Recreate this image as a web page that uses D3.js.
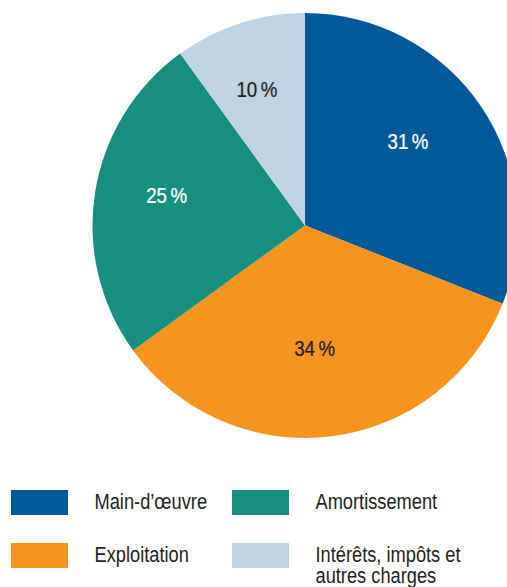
<!DOCTYPE html>
<html>
<head>
<meta charset="utf-8">
<script src="https://cdn.jsdelivr.net/npm/d3@7"></script>
<style>
  html, body { margin: 0; padding: 0; background: #fff; }
  svg { display: block; }
  text { font-family: "Liberation Sans", Arial, sans-serif; }
</style>
</head>
<body>
<svg id="chart" width="507" height="587"></svg>
<script>
// Cost breakdown, in percent
const categories = ["Main-d’œuvre", "Exploitation", "Amortissement", "Intérêts, impôts et autres charges"];
const values = [31, 34, 25, 10];
const sliceLabels = ["31 %", "34 %", "25 %", "10 %"];
const legendLines = [["Main-d’œuvre"], ["Exploitation"], ["Amortissement"], ["Intérêts, impôts et", "autres charges"]];
const colors = ["#005a9a", "#f7941e", "#178f80", "#bfd3e3"];
const labelColors = ["#ffffff", "#231f20", "#ffffff", "#231f20"];

// Narrow look for the type: regular face squeezed horizontally
const squeeze = 0.83;

const svg = d3.select("#chart");
const cx = 305, cy = 225.5, radius = 212.5;

const color = d3.scaleOrdinal().domain(categories).range(colors);

const pie = d3.pie().sort(null).value(d => d.value);
const data = categories.map((c, i) => ({ name: c, value: values[i], label: sliceLabels[i], labelColor: labelColors[i] }));
const arcs = pie(data);

const arc = d3.arc().innerRadius(0).outerRadius(radius);
const labelArc = d3.arc().innerRadius(133).outerRadius(133);

const g = svg.append("g").attr("transform", `translate(${cx},${cy})`);

g.selectAll("path.slice")
  .data(arcs)
  .join("path")
  .attr("class", "slice")
  .attr("d", arc)
  .attr("fill", d => color(d.data.name));

// Percentage labels, slightly heavier than the legend type
g.selectAll("text.value")
  .data(arcs)
  .join("text")
  .attr("class", "value")
  .attr("transform", d => {
    const [x, y] = labelArc.centroid(d);
    return `translate(${x - 7},${y - 10}) scale(${squeeze},1)`;
  })
  .attr("text-anchor", "middle")
  .attr("dy", "0.36em")
  .attr("font-size", 22.5)
  .attr("word-spacing", -2)
  .attr("fill", d => d.data.labelColor)
  .attr("stroke", d => d.data.labelColor)
  .attr("stroke-width", 0.25)
  .text(d => d.data.label);

// Legend: two columns, two rows
const legend = svg.append("g");
const colX = [11, 232];
const rowY = [490, 543];
const item = legend.selectAll("g.item")
  .data(categories)
  .join("g")
  .attr("class", "item")
  .attr("transform", (d, i) => {
    const col = i < 2 ? 0 : 1;
    const row = i % 2;
    return `translate(${colX[col]},${rowY[row]})`;
  });

item.append("rect")
  .attr("width", 57)
  .attr("height", 25)
  .attr("fill", d => color(d));

item.append("text")
  .attr("transform", `translate(83.5,19) scale(${squeeze},1)`)
  .attr("font-size", 22)
  .attr("fill", "#231f20")
  .each(function (d, i) {
    const t = d3.select(this);
    legendLines[i].forEach((line, j) => {
      t.append("tspan")
        .attr("x", 0)
        .attr("dy", j === 0 ? 0 : 21)
        .text(line);
    });
  });
</script>
</body>
</html>
